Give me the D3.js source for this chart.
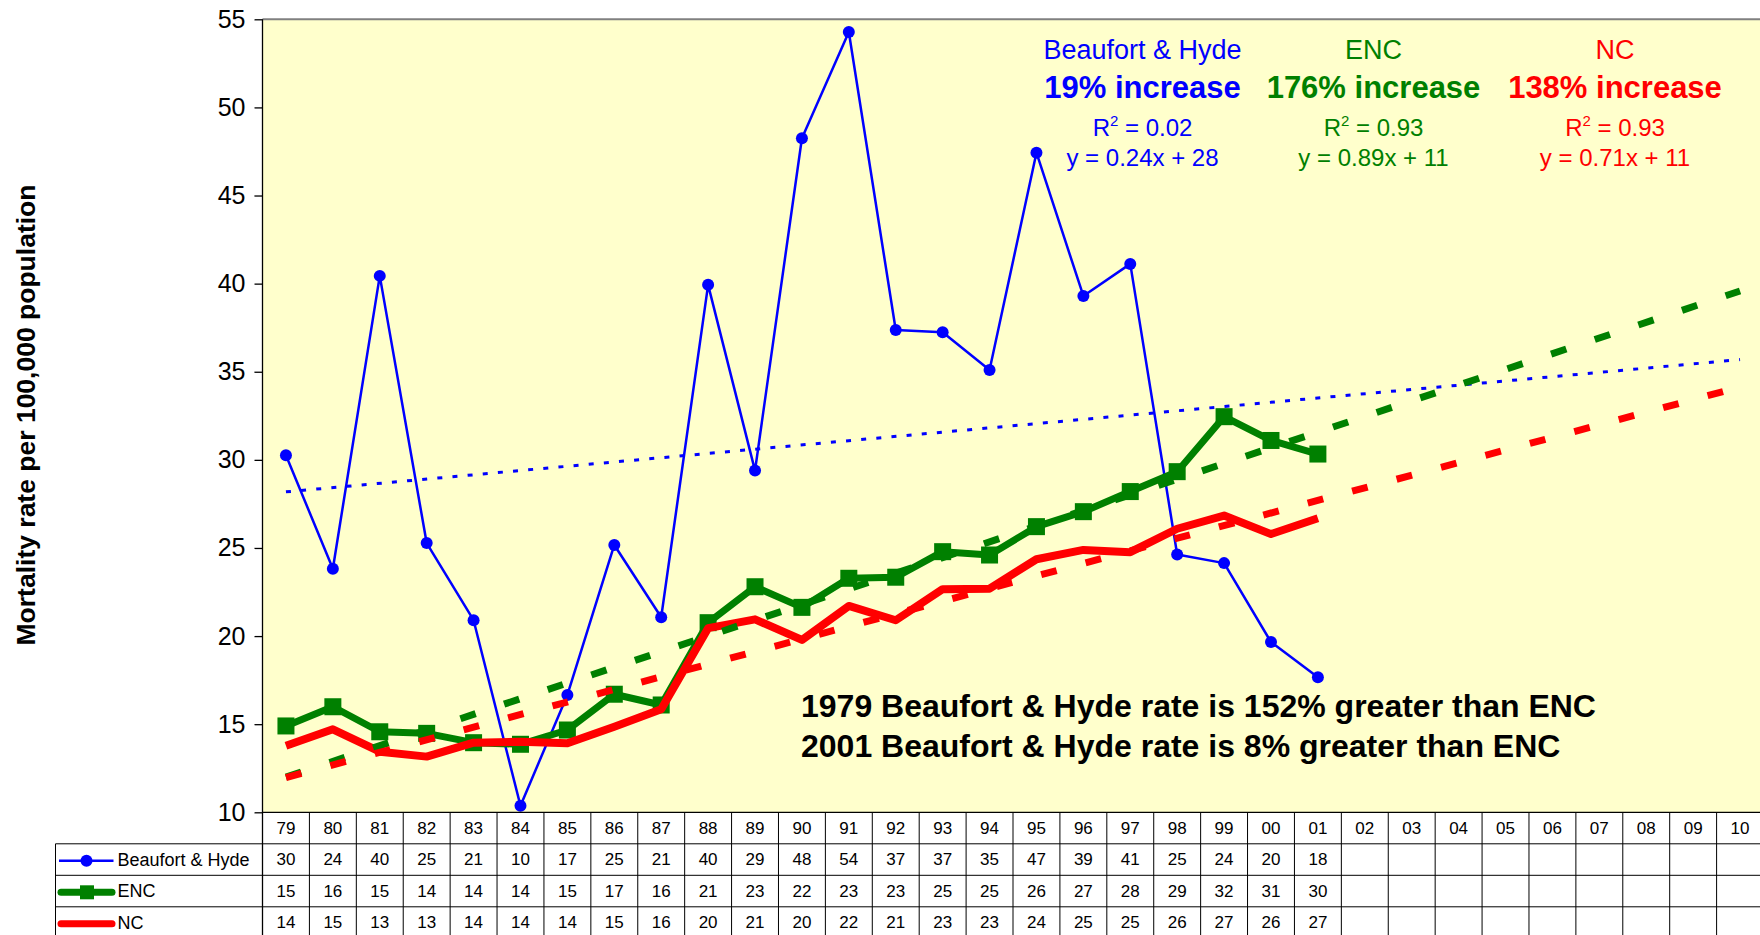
<!DOCTYPE html>
<html>
<head>
<meta charset="utf-8">
<script src="https://cdn.jsdelivr.net/npm/d3@7"></script>
<style>
  html, body { margin: 0; padding: 0; background: #fff; overflow: hidden; }
  svg { display: block; font-family: "Liberation Sans", Arial, Helvetica, sans-serif; }
</style>
</head>
<body>
<svg id="chart" width="1760" height="935"></svg>
<script>
// ---- data ---------------------------------------------------------------
const years = ["79","80","81","82","83","84","85","86","87","88","89","90",
               "91","92","93","94","95","96","97","98","99","00","01",
               "02","03","04","05","06","07","08","09","10"];

const seriesNames  = ["Beaufort & Hyde", "ENC", "NC"];
const seriesColors = ["#0000FF", "#008000", "#FF0000"];

// mortality rate per 100,000 population, 1979-2001
const beaufortHyde = [30.26, 23.82, 40.44, 25.28, 20.90, 10.37, 16.66, 25.17, 21.07, 39.93,
                      29.39, 48.25, 54.28, 37.37, 37.24, 35.10, 47.43, 39.30, 41.12, 24.63,
                      24.14, 19.66, 17.67];
const enc          = [14.90, 15.99, 14.57, 14.48, 13.95, 13.86, 14.67, 16.70, 16.09, 20.76,
                      22.80, 21.63, 23.28, 23.34, 24.79, 24.60, 26.21, 27.06, 28.20, 29.33,
                      32.45, 31.10, 30.33];
const nc           = [13.78, 14.71, 13.44, 13.16, 13.95, 14.00, 13.92, 14.86, 15.85, 20.45,
                      20.95, 19.78, 21.71, 20.90, 22.66, 22.69, 24.36, 24.89, 24.76, 26.09,
                      26.84, 25.79, 26.69];

const yTicks      = [10, 15, 20, 25, 30, 35, 40, 45, 50, 55];
const rSquared    = [0.02, 0.93, 0.93];
const pctIncrease = [19, 176, 138];
const notes = [
  "1979 Beaufort & Hyde rate is 152% greater than ENC",
  "2001 Beaufort & Hyde rate is 8% greater than ENC"
];

const allSeries = [beaufortHyde, enc, nc];

// ---- layout -------------------------------------------------------------
const W = 1760, H = 935;
const plot = { left: 262.5, right: 1763.5, top: 19.3, bottom: 812.3 };
const tableLeft = 55.5;
const rowH = 31.5;
const rowY = [0, 1, 2, 3, 4].map(k => plot.bottom + k * rowH);

const svg = d3.select("#chart");

const x = d3.scaleBand().domain(years).range([plot.left, plot.right]).padding(0);
const cx = yr => x(yr) + x.bandwidth() / 2;
const y = d3.scaleLinear().domain([10, 55]).range([plot.bottom, plot.top]);

// least-squares trend over the observed years (x = 1..n), projected to 2010
function linearFit(vals) {
  const n = vals.length;
  const xs = vals.map((_, i) => i + 1);
  const mx = d3.mean(xs), my = d3.mean(vals);
  let sxy = 0, sxx = 0;
  xs.forEach((xv, i) => { sxy += (xv - mx) * (vals[i] - my); sxx += (xv - mx) ** 2; });
  const m = sxy / sxx;
  return { m, b: my - m * mx };
}
const fits = allSeries.map(linearFit);

// ---- plot area ----------------------------------------------------------
svg.append("rect")
  .attr("x", plot.left).attr("y", plot.top)
  .attr("width", plot.right - plot.left).attr("height", plot.bottom - plot.top)
  .attr("fill", "#FFFFCC");

svg.append("line")
  .attr("x1", plot.left).attr("x2", plot.right)
  .attr("y1", plot.top).attr("y2", plot.top)
  .attr("stroke", "#808080").attr("stroke-width", 2);

// y axis
const yAxis = svg.append("g")
  .attr("transform", `translate(${plot.left},0)`)
  .call(d3.axisLeft(y).tickValues(yTicks).tickSize(8).tickPadding(9).tickFormat(d3.format("d")));
yAxis.select(".domain").remove();
yAxis.selectAll(".tick line").attr("stroke", "#000").attr("stroke-width", 1.3);
yAxis.selectAll(".tick text")
  .attr("font-size", 25).attr("fill", "#000")
  .attr("font-family", "'Liberation Sans', Arial, sans-serif");

svg.append("text")
  .attr("transform", "translate(35,415) rotate(-90)")
  .attr("text-anchor", "middle")
  .attr("font-size", 26.5).attr("font-weight", "bold").attr("fill", "#000")
  .text("Mortality rate per 100,000 population");

// ---- series -------------------------------------------------------------
const lineGen = d3.line().x(d => cx(d.yr)).y(d => y(d.v));
const pts = vals => vals.map((v, i) => ({ yr: years[i], v }));

const seriesG = svg.append("g");

// Beaufort & Hyde
seriesG.append("path")
  .datum(pts(beaufortHyde))
  .attr("d", lineGen)
  .attr("fill", "none").attr("stroke", seriesColors[0])
  .attr("stroke-width", 2.5).attr("stroke-linejoin", "round");
seriesG.selectAll("circle.bh").data(pts(beaufortHyde)).join("circle")
  .attr("class", "bh")
  .attr("cx", d => cx(d.yr)).attr("cy", d => y(d.v)).attr("r", 6)
  .attr("fill", seriesColors[0]);

// ENC
seriesG.append("path")
  .datum(pts(enc))
  .attr("d", lineGen)
  .attr("fill", "none").attr("stroke", seriesColors[1])
  .attr("stroke-width", 7).attr("stroke-linejoin", "round");
const sq = 17;
seriesG.selectAll("rect.enc").data(pts(enc)).join("rect")
  .attr("class", "enc")
  .attr("x", d => cx(d.yr) - sq / 2).attr("y", d => y(d.v) - sq / 2)
  .attr("width", sq).attr("height", sq)
  .attr("fill", seriesColors[1]);

// NC
seriesG.append("path")
  .datum(pts(nc))
  .attr("d", lineGen)
  .attr("fill", "none").attr("stroke", seriesColors[2])
  .attr("stroke-width", 8).attr("stroke-linejoin", "round");

// ---- trend lines --------------------------------------------------------
const trendStyles = [
  { w: 3, dash: "5,10.2" },
  { w: 7, dash: "16,30" },
  { w: 7, dash: "16,30" }
];
fits.forEach((f, s) => {
  const tl = years.map((yr, i) => ({ yr, v: f.m * (i + 1) + f.b }));
  svg.append("path")
    .datum([tl[0], tl[tl.length - 1]])
    .attr("d", lineGen)
    .attr("fill", "none")
    .attr("stroke", seriesColors[s])
    .attr("stroke-width", trendStyles[s].w)
    .attr("stroke-dasharray", trendStyles[s].dash);
});

// ---- trend annotations --------------------------------------------------
const annoX = [1142.5, 1373.5, 1615];
const fmtSlope = d3.format(".2f");
seriesNames.forEach((name, s) => {
  const g = svg.append("g").attr("fill", seriesColors[s]).attr("text-anchor", "middle");
  g.append("text").attr("x", annoX[s]).attr("y", 59).attr("font-size", 27).text(name);
  g.append("text").attr("x", annoX[s]).attr("y", 98)
    .attr("font-size", 31).attr("font-weight", "bold")
    .text(`${pctIncrease[s]}% increase`);
  const r2 = g.append("text").attr("x", annoX[s]).attr("y", 136).attr("font-size", 24);
  r2.append("tspan").text("R");
  r2.append("tspan").attr("font-size", 15).attr("dy", -10).text("2");
  r2.append("tspan").attr("dy", 10).text(` = ${rSquared[s].toFixed(2)}`);
  g.append("text").attr("x", annoX[s]).attr("y", 166).attr("font-size", 24)
    .text(`y = ${fmtSlope(fits[s].m)}x + ${Math.round(fits[s].b)}`);
});

// ---- notes --------------------------------------------------------------
svg.selectAll("text.note").data(notes).join("text")
  .attr("class", "note")
  .attr("x", 801).attr("y", (d, i) => 716.7 + i * 40)
  .attr("font-size", 32).attr("font-weight", "bold").attr("fill", "#000")
  .text(d => d);

// left axis line (drawn over series edges, continues into the table)
svg.append("line")
  .attr("x1", plot.left).attr("x2", plot.left)
  .attr("y1", plot.top).attr("y2", H)
  .attr("stroke", "#000").attr("stroke-width", 1.3);

// ---- data table ---------------------------------------------------------
const table = svg.append("g");
table.append("line")
  .attr("x1", plot.left).attr("x2", plot.right)
  .attr("y1", plot.bottom).attr("y2", plot.bottom)
  .attr("stroke", "#000").attr("stroke-width", 1.3);
[1, 2, 3].forEach(k => {
  table.append("line")
    .attr("x1", tableLeft).attr("x2", plot.right)
    .attr("y1", rowY[k]).attr("y2", rowY[k])
    .attr("stroke", "#000").attr("stroke-width", 1);
});
table.append("line")
  .attr("x1", tableLeft).attr("x2", tableLeft)
  .attr("y1", rowY[1]).attr("y2", H)
  .attr("stroke", "#000").attr("stroke-width", 1);
table.selectAll("line.col").data(years.slice(1).concat(["end"])).join("line")
  .attr("class", "col")
  .attr("x1", d => d === "end" ? plot.right : x(d))
  .attr("x2", d => d === "end" ? plot.right : x(d))
  .attr("y1", plot.bottom).attr("y2", H)
  .attr("stroke", "#000").attr("stroke-width", 1);

const tfont = 17;
table.selectAll("text.yr").data(years).join("text")
  .attr("class", "yr")
  .attr("x", d => cx(d)).attr("y", rowY[0] + 21.5)
  .attr("text-anchor", "middle").attr("font-size", tfont).attr("fill", "#000")
  .text(d => d);

allSeries.forEach((vals, s) => {
  table.selectAll(`text.v${s}`).data(vals).join("text")
    .attr("class", `v${s}`)
    .attr("x", (d, i) => cx(years[i])).attr("y", rowY[s + 1] + 21.5)
    .attr("text-anchor", "middle").attr("font-size", tfont).attr("fill", "#000")
    .text(d => Math.round(d));
});

// legend keys in the first column
const keyY = rowY.slice(1, 4).map(v => v + 17);
table.append("line")
  .attr("x1", 59).attr("x2", 113.5).attr("y1", keyY[0]).attr("y2", keyY[0])
  .attr("stroke", seriesColors[0]).attr("stroke-width", 2.5);
table.append("circle").attr("cx", 86.5).attr("cy", keyY[0]).attr("r", 6).attr("fill", seriesColors[0]);
table.append("line")
  .attr("x1", 61).attr("x2", 112).attr("y1", keyY[1]).attr("y2", keyY[1])
  .attr("stroke", seriesColors[1]).attr("stroke-width", 7).attr("stroke-linecap", "round");
table.append("rect").attr("x", 80).attr("y", keyY[1] - 7).attr("width", 14).attr("height", 14)
  .attr("fill", seriesColors[1]);
table.append("line")
  .attr("x1", 61).attr("x2", 112).attr("y1", keyY[2]).attr("y2", keyY[2])
  .attr("stroke", seriesColors[2]).attr("stroke-width", 7).attr("stroke-linecap", "round");

table.selectAll("text.key").data(seriesNames).join("text")
  .attr("class", "key")
  .attr("x", 117.5).attr("y", (d, i) => rowY[i + 1] + 22)
  .attr("font-size", 18).attr("fill", "#000")
  .text(d => d);
</script>
</body>
</html>
